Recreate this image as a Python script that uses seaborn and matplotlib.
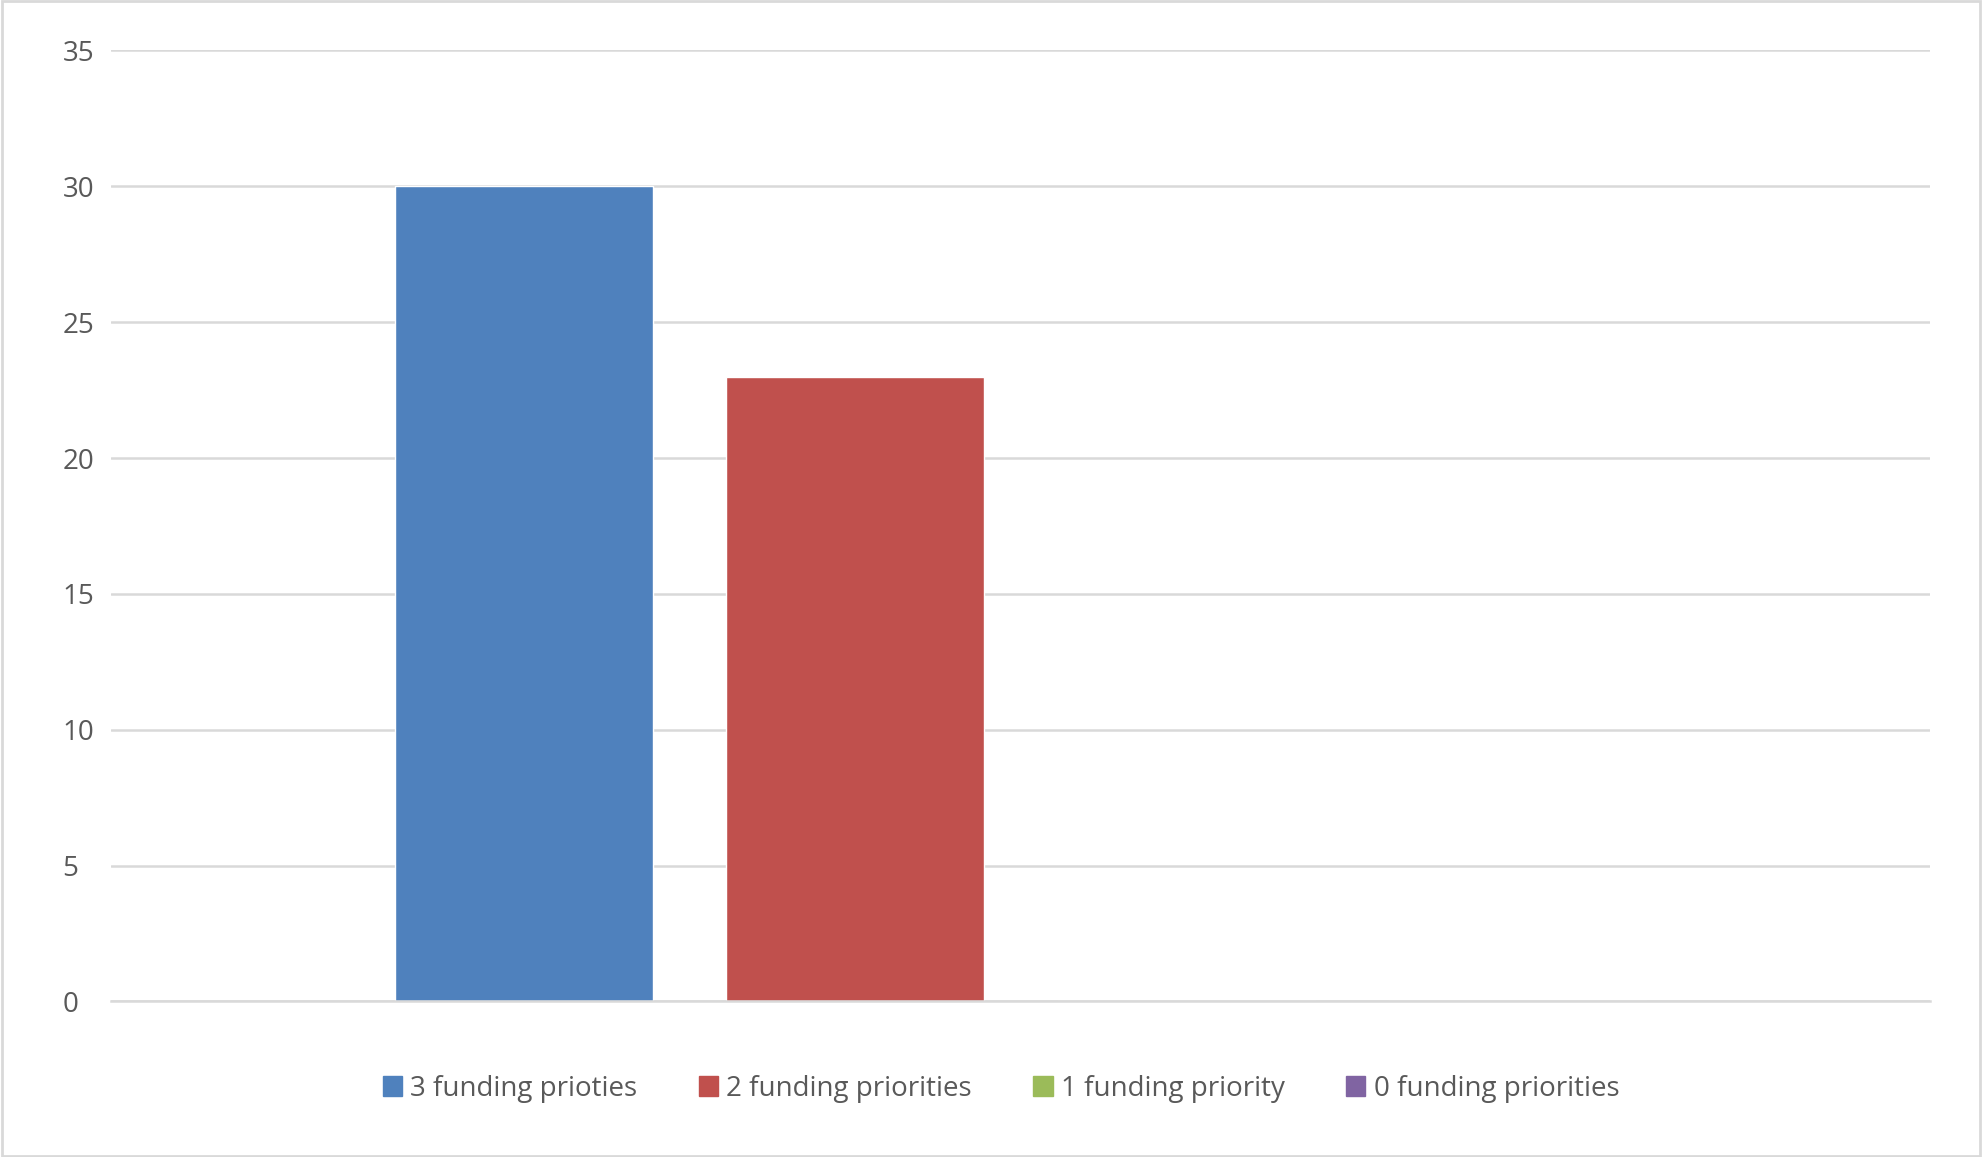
import matplotlib
matplotlib.use("Agg")
import matplotlib.pyplot as plt
import seaborn as sns
import pandas as pd
from matplotlib.patches import Rectangle

series = ["3 funding prioties", "2 funding priorities", "1 funding priority", "0 funding priorities"]
values = [30, 23, 0, 0]
colors = ["#4F81BD", "#C0504D", "#9BBB59", "#8064A2"]
category = ["All"] * 4

sns.set_theme(style="white")
plt.rcParams['font.family'] = ['Open Sans', 'DejaVu Sans']

df = pd.DataFrame({"cat": category, "series": series, "value": values})
fig = plt.figure(figsize=(19.82, 11.57), dpi=100)
ax = fig.add_axes([0.0561, 0.1344, 0.9179, 0.822])
sns.barplot(data=df, x="cat", y="value", hue="series", palette=colors,
            width=0.728, gap=0.22, ax=ax, legend=True, saturation=1)
ax.set_xlim(-0.5, 0.5)
ax.set_ylim(0, 35)
ax.set_yticks(range(0, 36, 5))
ax.set_xticks([])
ax.set_xlabel(""); ax.set_ylabel("")
ax.grid(axis="y", color="#D9D9D9", linewidth=1.8)
ax.set_axisbelow(True)
for s in ["top", "right", "left"]:
    ax.spines[s].set_visible(False)
ax.spines["bottom"].set_color("#D9D9D9")
ax.spines["bottom"].set_linewidth(1.8)
ax.tick_params(axis="y", length=0, labelsize=20, colors="#595959", pad=35)
for t in ax.get_yticklabels():
    t.set_horizontalalignment("left")
ax.legend_.remove()
handles = [Rectangle((0, 0), 1, 1, color=c) for c in colors]
fig.legend(handles, series, loc="center", bbox_to_anchor=(0.505, 0.059), ncol=4,
           frameon=False, fontsize=20, labelcolor="#595959", handlelength=0.7,
           handleheight=0.7, handletextpad=0.3, columnspacing=2.2)
fig.patches.append(Rectangle((0.001, 0.001), 0.998, 0.998, transform=fig.transFigure,
                             fill=False, edgecolor="#D9D9D9", linewidth=2))
fig.savefig("out.png", dpi=100)
